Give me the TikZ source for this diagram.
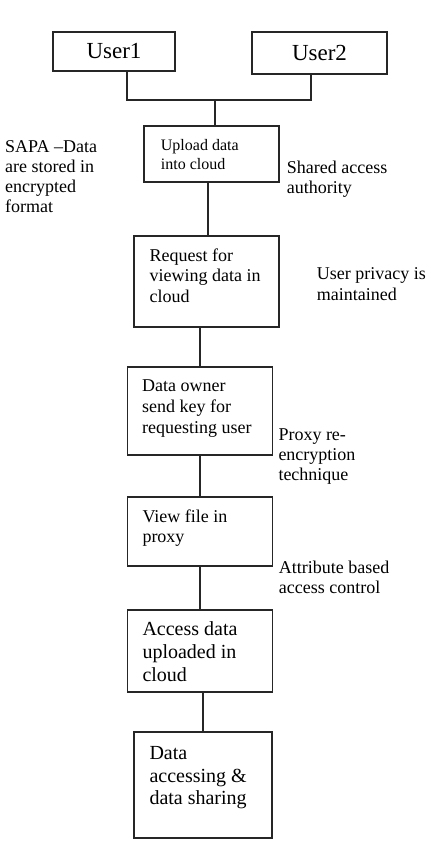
\documentclass[tikz,border=0pt]{standalone}
\usepackage{fontspec}
\setmainfont{Liberation Serif}
\usetikzlibrary{positioning,calc}

\tikzset{
  box/.style={draw=black!85, line width=1.3pt, inner sep=0pt, outer sep=0pt, anchor=north west},
  % anchored at the baseline of the last line
  txt/.style={inner sep=0pt, anchor=base west, align=left},
  link/.style={draw=black!85, line width=1.4pt},
}
\newcommand{\fsz}[2]{\fontsize{#1}{#2}\selectfont}

\begin{document}
\begin{tikzpicture}[x=1pt,y=1pt,yscale=-1,xscale=1]
\useasboundingbox (0,0) rectangle (427,851);

%Shape: Rectangle
\node [box, minimum width=122, minimum height=39, font=\fsz{23}{26}] (user1) at (53,32) {User1};
%Shape: Rectangle
\node [box, minimum width=135, minimum height=42, font=\fsz{23}{26}] (user2) at (252,32) {User2};
%Shape: Rectangle
\node [box, minimum width=135, minimum height=56] (upload) at (144,126) {};
%Shape: Rectangle
\node [box, minimum width=145, minimum height=91] (request) at (134,236) {};
%Shape: Rectangle
\node [box, minimum width=145, minimum height=88] (owner) at (127.5,367) {};
%Shape: Rectangle
\node [box, minimum width=145, minimum height=69] (view) at (127.5,497) {};
%Shape: Rectangle
\node [box, minimum width=145, minimum height=82] (access) at (127.5,610) {};
%Shape: Rectangle
\node [box, minimum width=138, minimum height=106] (share) at (134,732) {};

%Straight Lines
\coordinate (merge) at (215,100);
\draw [link] ([xshift=13]user1.south) |- (merge) -| ([xshift=-8.5]user2.south);
\draw [link] (merge) -- (merge |- upload.north);
\draw [link] ([xshift=-3.5]upload.south) -- ([xshift=-3.5]upload.south |- request.north);
\draw [link] (owner.north |- request.south) -- (owner.north);
\draw [link] (owner.south) -- (view.north);
\draw [link] (view.south) -- (access.north);
\draw [link] (share.north |- access.south) -- (share.north);

% Text Node
\node [txt, font=\fsz{16}{19}] (uploadtxt) at (160.7,169) {Upload data\\into cloud};
% Text Node
\node [txt, font=\fsz{18}{20.5}] (requesttxt) at (149.5,302) {Request for\\viewing data in\\cloud};
% Text Node
\node [txt, font=\fsz{18}{20.8}] (ownertxt) at (142,433.3) {Data owner\\send key for\\requesting user};
% Text Node
\node [txt, font=\fsz{18}{20.4}] (viewtxt) at (142.3,542.7) {View file in\\proxy};
% Text Node
\node [txt, font=\fsz{20}{23}] (accesstxt) at (142.3,681.7) {Access data\\uploaded in\\cloud};
% Text Node
\node [txt, font=\fsz{20}{22.7}] (sharetxt) at (149.3,804.9) {Data\\accessing \&\\data sharing};

% Text Node
\node [txt, font=\fsz{18}{20}] (sapa) at (5,212) {SAPA --Data\\are stored in\\encrypted\\format};
% Text Node
\node [txt, font=\fsz{18}{20.5}] (shared) at (286.7,193.5) {Shared access\\authority};
% Text Node
\node [txt, font=\fsz{18}{20.7}] (privacy) at (316.7,300) {User privacy is\\maintained};
% Text Node
\node [txt, font=\fsz{18}{20}] (proxy) at (278.3,480) {Proxy re-\\encryption\\technique};
% Text Node
\node [txt, font=\fsz{18}{20}] (abac) at (278.7,593.3) {Attribute based\\access control};

\end{tikzpicture}
\end{document}
